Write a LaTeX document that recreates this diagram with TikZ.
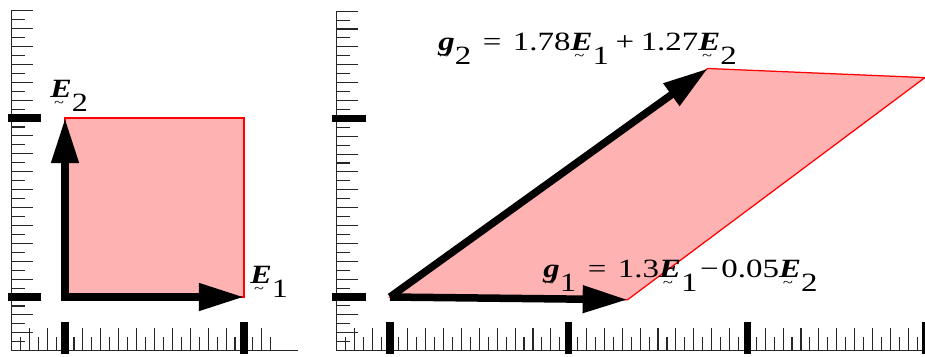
\documentclass[tikz,border=0pt]{standalone}
\usepackage{fontspec}
\setmainfont{Liberation Serif}
\usetikzlibrary{arrows.meta}
\definecolor{fillpink}{RGB}{255,178,178}
\newcommand\tvec[1]{\leavevmode\setbox0\hbox{\textbf{\textit{#1}}}%
  \rlap{\hbox to\wd0{\hss\raisebox{-6pt}{\fontsize{8.5}{8.5}\selectfont\textasciitilde}\hspace{2pt}\hss}}\box0}
\newcommand\sbx[1]{\raisebox{-0.55em}{#1}}
\newcommand\mns{\char"2212}
\newcommand\wide[2]{\scalebox{#1}[1]{#2}}
\tikzset{
  axisline/.style={line width=0.03cm, black!85},
  tickline/.style={line width=0.022cm, black!85},
  majortick/.style={line width=0.15cm, black},
  sq/.style={fill=fillpink, draw=red, line width=0.025cm},
  vec/.style={line width=0.15cm, black, -{Triangle[length=0.9cm,width=0.52cm]}},
  lab/.style={inner sep=0pt, font=\fontsize{15}{17}\selectfont, anchor=base west}
}
\begin{document}
\begin{tikzpicture}[x=0.02cm,y=-0.02cm]
\useasboundingbox (0,0) rectangle (925,356);
% ---------- left panel ----------
\begin{scope}[shift={(65,297)}, x=3.58cm, y=3.58cm]
  \draw[axisline] (-0.3,-0.3) -- (-0.3,1.6);
  \draw[axisline] (-0.3,-0.3) -- (1.3,-0.3);
  \foreach \k in {-5,...,32}{
    \pgfmathsetmacro\len{mod(\k+100,2)==1 ? 0.078 : 0.123}
    \draw[tickline] (-0.3,\k*0.05) -- ++(\len,0);
  }
  \foreach \k in {-5,...,23}{
    \pgfmathsetmacro\len{mod(\k+100,2)==1 ? 0.078 : 0.128}
    \draw[tickline] (\k*0.05,-0.3) -- ++(0,\len);
  }
  \draw[majortick] (-0.318,0) -- (-0.134,0);
  \draw[majortick] (-0.318,1) -- (-0.134,1);
  \draw[majortick] (0,-0.318) -- (0,-0.14);
  \draw[majortick] (1,-0.318) -- (1,-0.14);
  \coordinate (O1) at (0,0);
  \coordinate (E1) at (1,0);
  \coordinate (E2) at (0,1);
  \coordinate (E12) at (1,1);
  \filldraw[sq] (O1) -- (E1) -- (E12) -- (E2) -- cycle;
  \draw[vec, line cap=rect] (O1) -- (E1);
  \draw[vec, line cap=rect] (O1) -- (E2);
\end{scope}
% ---------- right panel ----------
\begin{scope}[shift={(390,297)}, x=3.574cm, y=3.574cm]
  \draw[axisline] (-0.3,-0.3) -- (-0.3,1.6);
  \draw[axisline] (-0.3,-0.3) -- (3.0,-0.3);
  \foreach \k in {-5,...,32}{
    \pgfmathsetmacro\len{mod(\k+100,2)==1 ? 0.078 : 0.123}
    \draw[tickline] (-0.3,\k*0.05) -- ++(\len,0);
  }
  \foreach \k in {-5,...,59}{
    \pgfmathsetmacro\len{mod(\k+100,2)==1 ? 0.078 : 0.128}
    \draw[tickline] (\k*0.05,-0.3) -- ++(0,\len);
  }
  \draw[majortick] (-0.325,0) -- (-0.134,0);
  \draw[majortick] (-0.325,1) -- (-0.134,1);
  \foreach \m in {0,1,2,3}{
    \draw[majortick] (\m,-0.318) -- (\m,-0.14);
  }
  \coordinate (O2) at (0,0);
  \coordinate (G1) at (1.33,-0.015);
  \coordinate (G12) at (2.994,1.228);
  \coordinate (G2) at (1.779,1.279);
  \filldraw[sq] (O2) -- (G1) -- (G12) -- (G2) -- cycle;
  \draw[vec] (O2) -- (G1);
  \draw[vec] (O2) -- (G2);
\end{scope}
% ---------- labels ----------
\node[lab] (lE2) at (50,97) {\wide{1.22}{\tvec{E}\sbx{2}}};
\node[lab] (lE1) at (250,283) {\wide{1.22}{\tvec{E}\sbx{1}}};
\node[lab] (lg2) at (438,50) {\wide{1.25}{\tvec{g}\sbx{2}\hspace{0.35em}=\hspace{0.35em}1.78\tvec{E}\sbx{1}\hspace{0.2em}+\hspace{0.2em}1.27\tvec{E}\sbx{2}}};
\node[lab] (lg1) at (543,277) {\wide{1.25}{\tvec{g}\sbx{1}\hspace{0.35em}=\hspace{0.35em}1.3\tvec{E}\sbx{1}\hspace{0.08em}\mns\hspace{0.08em}0.05\tvec{E}\sbx{2}}};
\end{tikzpicture}
\end{document}
